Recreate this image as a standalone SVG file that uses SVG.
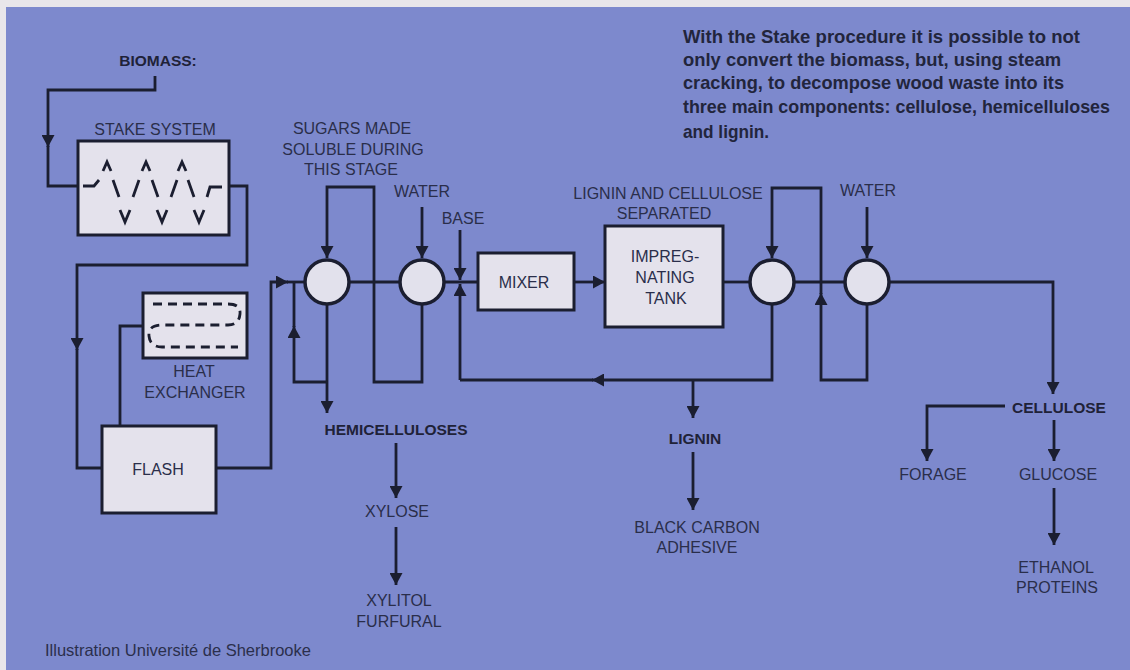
<svg xmlns="http://www.w3.org/2000/svg" width="1130" height="670" viewBox="0 0 1130 670">
<defs>
<style>
.bg{fill:#7d89cd}
.box{fill:#e4e2ec;stroke:#1b1e30;stroke-width:3}
.circ{fill:#e2e1ec;stroke:#1b1e30;stroke-width:3.5}
.ln{fill:none;stroke:#1b1e30;stroke-width:2.8}
.sym{fill:none;stroke:#1b1e30;stroke-width:2.8;stroke-linejoin:miter}
.arr{marker-end:url(#ah)}
.t{font-family:"Liberation Sans",Arial,sans-serif;font-size:16px;fill:#2a2e4a;text-anchor:middle}
.b{font-family:"Liberation Sans",Arial,sans-serif;font-size:15.5px;font-weight:bold;fill:#1f2238;text-anchor:middle}
.p{font-family:"Liberation Sans",Arial,sans-serif;font-size:18.5px;font-weight:bold;fill:#22253c}
</style>
<marker id="ah" viewBox="0 0 12 13" refX="12" refY="6.5" markerWidth="12" markerHeight="13" markerUnits="userSpaceOnUse" orient="auto">
<path d="M0,0 L12,6.5 L0,13 z" fill="#1b1e30"/>
</marker>
</defs>

<rect x="0" y="0" width="1130" height="670" fill="#e8e6ea"/>
<rect class="bg" x="6" y="7" width="1124" height="663"/>

<g id="connectors">
<!-- biomass to stake -->
<path class="ln arr" d="M155,76 V90 H48 V147"/>
<path class="ln" d="M48,146 V186 H78"/>
<!-- stake to flash -->
<path class="ln" d="M229,186 H247 V265 H77 V340"/>
<path class="ln arr" d="M77,339 V350"/>
<path class="ln" d="M77,349 V468 H102"/>
<!-- flash to heat exchanger -->
<path class="ln" d="M120,426 V326 H143"/>
<!-- flash to circle 1 -->
<path class="ln arr" d="M216,468 H271 V282 H288"/>
<path class="ln" d="M287,282 H305"/>
<!-- circle1 loops -->
<path class="ln arr" d="M327,304 V413"/>
<path class="ln arr" d="M327,382 H294 V326"/>
<path class="ln" d="M294,327 V282"/>
<path class="ln arr" d="M422,304 V382 H374 V187 H327 V258"/>
<!-- main line -->
<path class="ln" d="M349,282 H400"/>
<path class="ln" d="M444,282 H478"/>
<!-- water 1 -->
<path class="ln arr" d="M422,207 V258"/>
<!-- base -->
<path class="ln arr" d="M460,230 V280"/>
<path class="ln arr" d="M460,380 V284"/>
<!-- mixer to tank -->
<path class="ln arr" d="M574,282 H605"/>
<!-- tank to circle3 -->
<path class="ln" d="M723,282 H750"/>
<path class="ln" d="M794,282 H845"/>
<!-- return line -->
<path class="ln arr" d="M772,304 V380 H592"/>
<path class="ln" d="M593,380 H460"/>
<path class="ln arr" d="M693,380 V418"/>
<!-- circle3/4 loop -->
<path class="ln arr" d="M867,304 V380 H821 V293"/>
<path class="ln arr" d="M821,294 V188 H772 V258"/>
<!-- water 2 -->
<path class="ln arr" d="M867,207 V258"/>
<!-- cellulose -->
<path class="ln arr" d="M889,282 H1053 V394"/>
<path class="ln arr" d="M1005,406 H927 V461"/>
<path class="ln arr" d="M1054,420 V461"/>
<path class="ln arr" d="M1054,488 V545"/>
<!-- hemicelluloses -->
<path class="ln arr" d="M396,443 V498"/>
<path class="ln arr" d="M396,527 V585"/>
<!-- lignin -->
<path class="ln arr" d="M693,452 V510"/>
</g>

<g id="biomass">
<text class="b" x="158" y="66">BIOMASS:</text>
</g>

<g id="stake-system">
<text class="t" x="155" y="135">STAKE SYSTEM</text>
<rect class="box" x="78" y="141" width="151" height="94"/>
<path class="sym" d="M83,186 H94 L99,180"/>
<path class="sym" d="M113,180 L119,197 M139,180 L133,197 M152,180 L158,197 M177,180 L171,197 M188,180 L194,197"/>
<path class="sym" d="M207,197 L210,187 H222"/>
<path class="sym" d="M103,171 L107,162 L111,171 M142,171 L146,162 L150,171 M178,171 L182,162 L186,171"/>
<path class="sym" d="M120,210 L125,222 L130,210 M157,210 L162,222 L167,210 M194,210 L199,222 L204,210"/>
</g>

<g id="heat-exchanger">
<rect class="box" x="143" y="293" width="104" height="65"/>
<path class="sym" stroke-dasharray="9 6" d="M153,304 H228 Q241,304 240,314 Q239,325 228,325 H160 Q148,326 149,336 Q150,347 162,347 H238"/>
<text class="t" x="194" y="377">HEAT</text>
<text class="t" x="195" y="398">EXCHANGER</text>
</g>

<g id="flash">
<rect class="box" x="102" y="426" width="114" height="87"/>
<text class="t" x="158" y="475">FLASH</text>
</g>

<g id="separator-1">
<circle class="circ" cx="327" cy="282" r="22"/>
<text class="t" x="352" y="134">SUGARS MADE</text>
<text class="t" x="353" y="155">SOLUBLE DURING</text>
<text class="t" x="351" y="175">THIS STAGE</text>
</g>

<g id="separator-2">
<circle class="circ" cx="422" cy="282" r="22"/>
<text class="t" x="422" y="197">WATER</text>
</g>

<g id="base">
<text class="t" x="463" y="224">BASE</text>
</g>

<g id="mixer">
<rect class="box" x="478" y="253" width="96" height="57"/>
<text class="t" x="524" y="288">MIXER</text>
</g>

<g id="impregnating-tank">
<text class="t" x="668" y="199">LIGNIN AND CELLULOSE</text>
<text class="t" x="664" y="219">SEPARATED</text>
<rect class="box" x="605" y="226" width="118" height="101"/>
<text class="t" x="665" y="262">IMPREG-</text>
<text class="t" x="665" y="283">NATING</text>
<text class="t" x="666" y="304">TANK</text>
</g>

<g id="separator-3">
<circle class="circ" cx="772" cy="282" r="22"/>
</g>

<g id="separator-4">
<circle class="circ" cx="867" cy="282" r="22"/>
<text class="t" x="868" y="196">WATER</text>
</g>

<g id="hemicelluloses">
<text class="b" x="396" y="435">HEMICELLULOSES</text>
<text class="t" x="397" y="517">XYLOSE</text>
<text class="t" x="399" y="606">XYLITOL</text>
<text class="t" x="399" y="627">FURFURAL</text>
</g>

<g id="lignin">
<text class="b" x="695" y="444">LIGNIN</text>
<text class="t" x="697" y="533">BLACK CARBON</text>
<text class="t" x="697" y="553">ADHESIVE</text>
</g>

<g id="cellulose">
<text class="b" x="1012" y="413" style="text-anchor:start">CELLULOSE</text>
<text class="t" x="933" y="480">FORAGE</text>
<text class="t" x="1058" y="480">GLUCOSE</text>
<text class="t" x="1056" y="573">ETHANOL</text>
<text class="t" x="1057" y="593">PROTEINS</text>
</g>

<g id="caption">
<text class="p" x="683" y="43" textLength="397" lengthAdjust="spacingAndGlyphs">With the Stake procedure it is possible to not</text>
<text class="p" x="683" y="66" textLength="378" lengthAdjust="spacingAndGlyphs">only convert the biomass, but, using steam</text>
<text class="p" x="683" y="89" textLength="381" lengthAdjust="spacingAndGlyphs">cracking, to decompose wood waste into its</text>
<text class="p" x="683" y="113" textLength="427" lengthAdjust="spacingAndGlyphs">three main components: cellulose, hemicelluloses</text>
<text class="p" x="683" y="138" textLength="86" lengthAdjust="spacingAndGlyphs">and lignin.</text>
</g>

<g id="credit">
<text x="45" y="656" style="font-family:'Liberation Sans',Arial,sans-serif;font-size:16.5px;fill:#2b2f4c">Illustration Université de Sherbrooke</text>
</g>
</svg>
